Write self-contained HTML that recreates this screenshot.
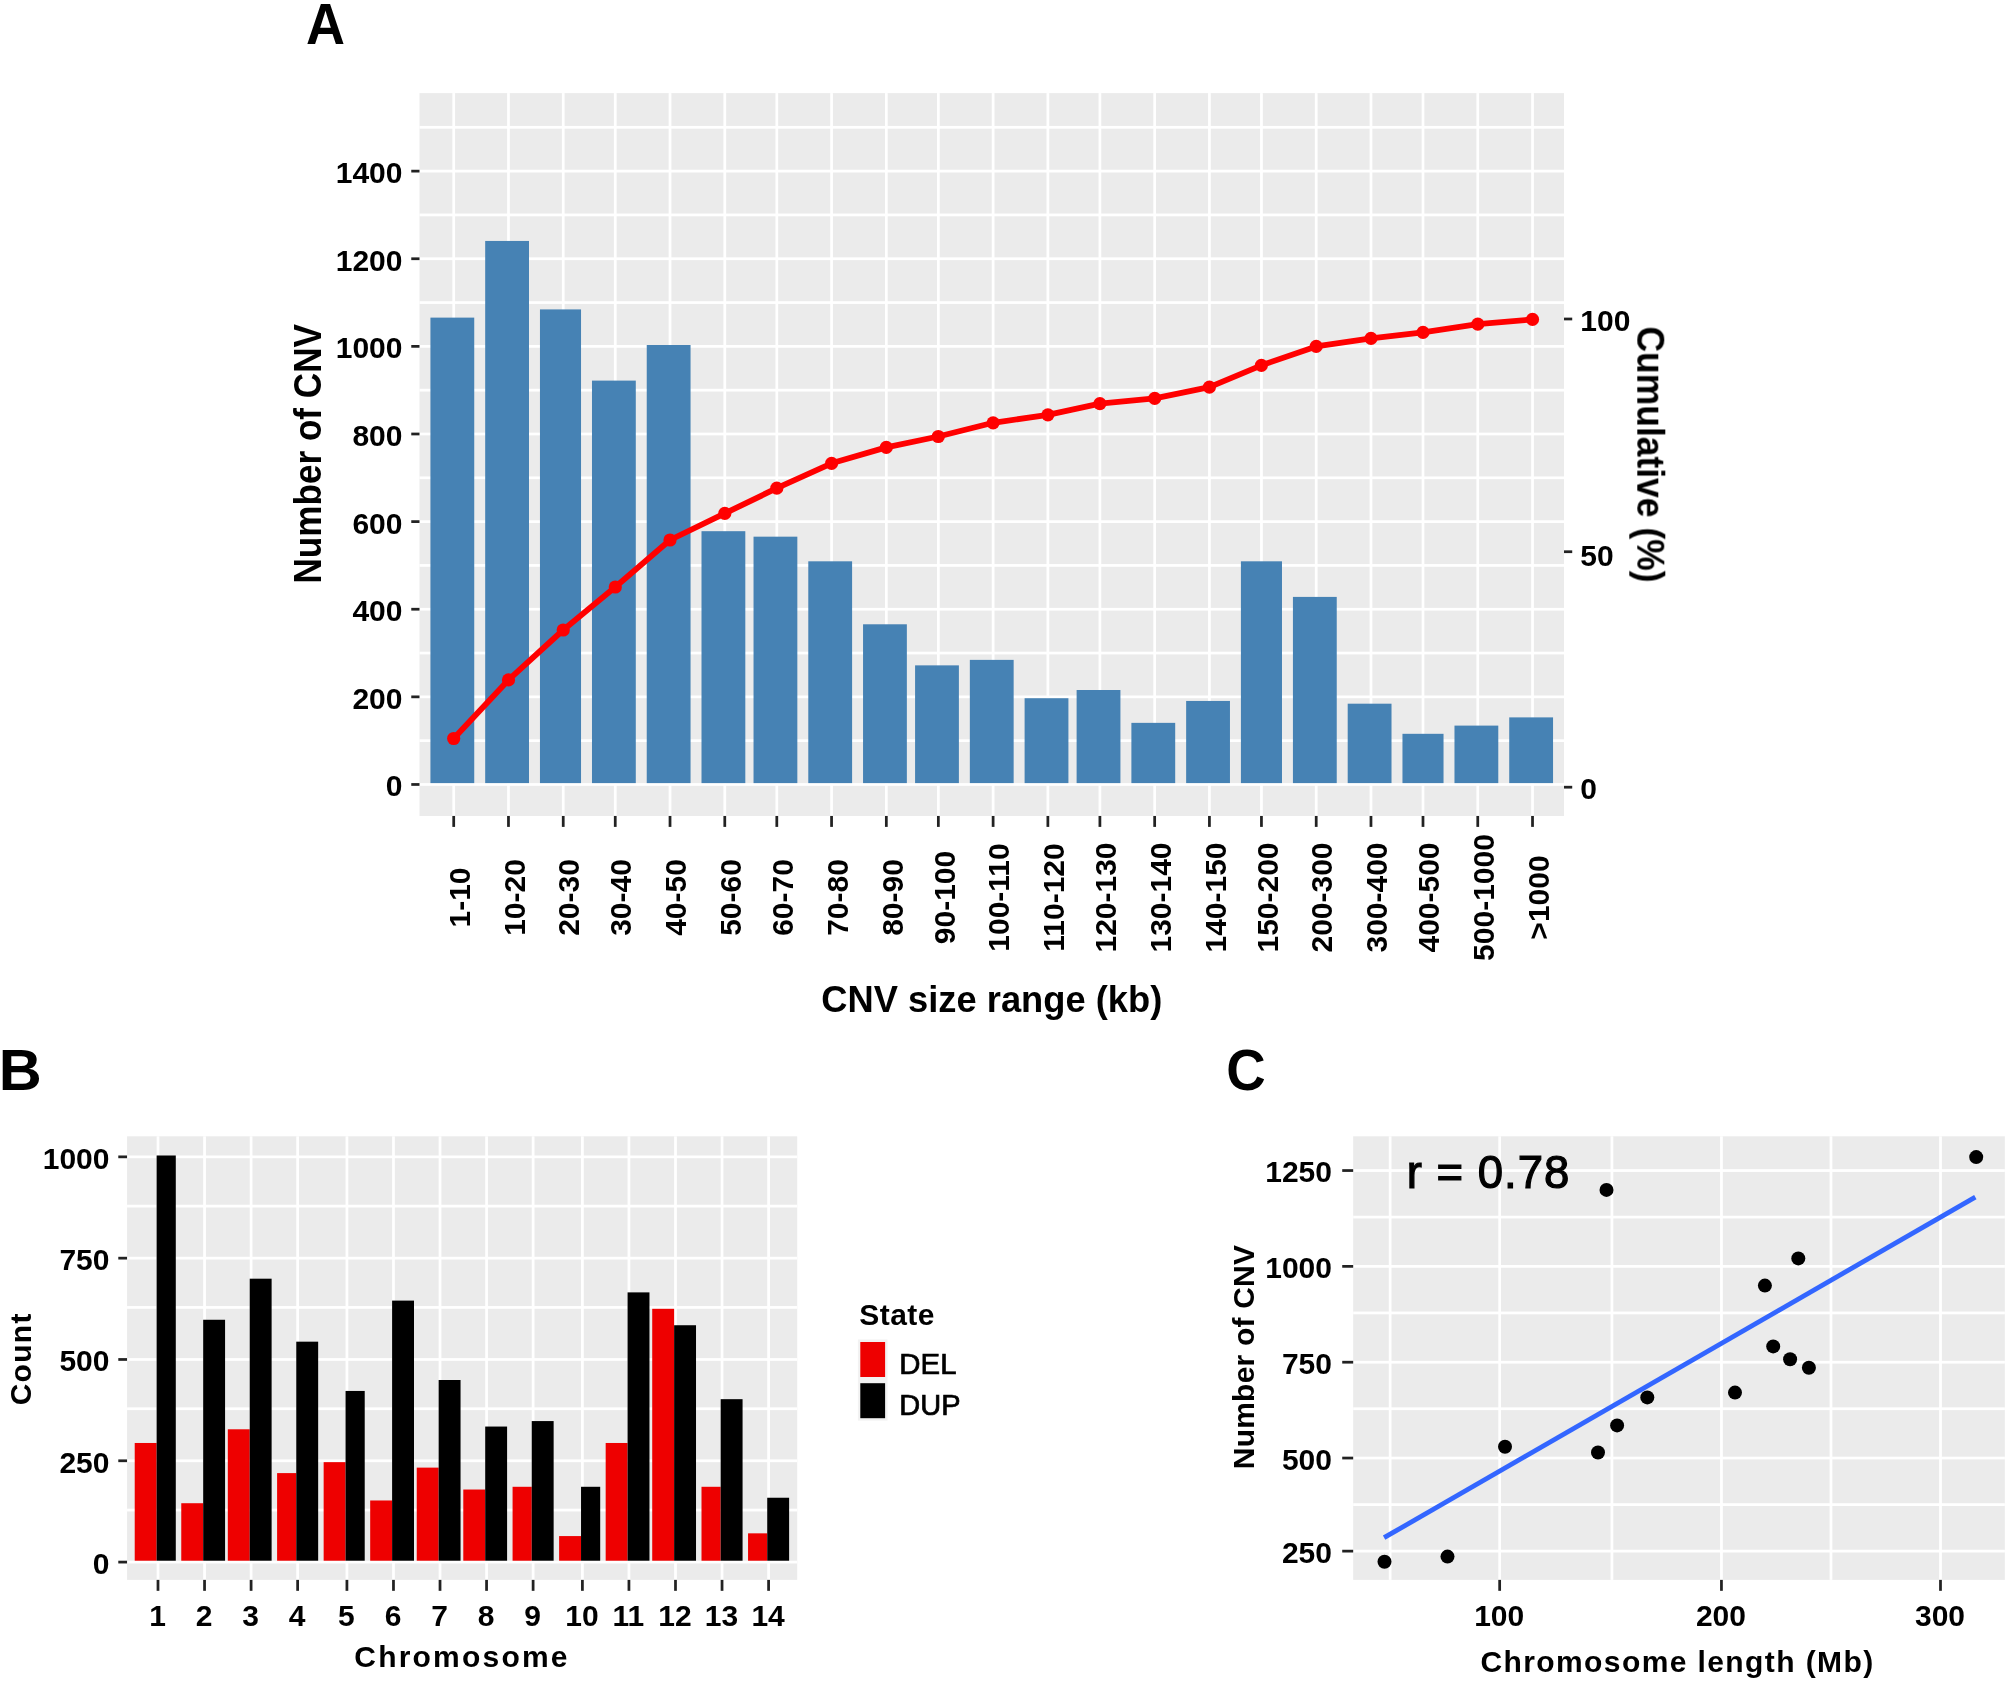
<!DOCTYPE html>
<html><head><meta charset="utf-8"><title>CNV figure</title>
<style>
html,body{margin:0;padding:0;background:#fff;}
svg{display:block;}
text{font-family:"Liberation Sans",sans-serif;}
</style></head><body>
<svg width="2007" height="1682" viewBox="0 0 2007 1682">
<defs>
<filter id="softS" x="0" y="0" width="2007" height="1682" filterUnits="userSpaceOnUse" color-interpolation-filters="sRGB"><feGaussianBlur stdDeviation="0.45"/></filter>
<filter id="softT" x="0" y="0" width="2007" height="1682" filterUnits="userSpaceOnUse" color-interpolation-filters="sRGB"><feGaussianBlur stdDeviation="0.75"/></filter>
</defs>
<rect x="0" y="0" width="2007" height="1682" fill="#fff"/>
<g filter="url(#softS)">
<rect x="0" y="0" width="2007" height="1682" fill="#fff"/>
<g id="panelA">
<rect x="419.48" y="93.10" width="1144.53" height="722.86" fill="#EBEBEB"/>
<rect x="419.48" y="125.95" width="1144.53" height="2.74" fill="#fff"/>
<rect x="419.48" y="169.76" width="1144.53" height="2.74" fill="#fff"/>
<rect x="419.48" y="213.57" width="1144.53" height="2.74" fill="#fff"/>
<rect x="419.48" y="257.38" width="1144.53" height="2.74" fill="#fff"/>
<rect x="419.48" y="301.19" width="1144.53" height="2.74" fill="#fff"/>
<rect x="419.48" y="345.00" width="1144.53" height="2.74" fill="#fff"/>
<rect x="419.48" y="388.81" width="1144.53" height="2.74" fill="#fff"/>
<rect x="419.48" y="432.62" width="1144.53" height="2.74" fill="#fff"/>
<rect x="419.48" y="476.43" width="1144.53" height="2.74" fill="#fff"/>
<rect x="419.48" y="520.24" width="1144.53" height="2.74" fill="#fff"/>
<rect x="419.48" y="564.05" width="1144.53" height="2.74" fill="#fff"/>
<rect x="419.48" y="607.86" width="1144.53" height="2.74" fill="#fff"/>
<rect x="419.48" y="651.67" width="1144.53" height="2.74" fill="#fff"/>
<rect x="419.48" y="695.48" width="1144.53" height="2.74" fill="#fff"/>
<rect x="419.48" y="739.29" width="1144.53" height="2.74" fill="#fff"/>
<rect x="419.48" y="783.10" width="1144.53" height="2.74" fill="#fff"/>
<rect x="452.34" y="93.10" width="2.74" height="722.86" fill="#fff"/>
<rect x="507.10" y="93.10" width="2.74" height="722.86" fill="#fff"/>
<rect x="561.86" y="93.10" width="2.74" height="722.86" fill="#fff"/>
<rect x="613.88" y="93.10" width="2.74" height="722.86" fill="#fff"/>
<rect x="668.65" y="93.10" width="2.74" height="722.86" fill="#fff"/>
<rect x="723.41" y="93.10" width="2.74" height="722.86" fill="#fff"/>
<rect x="775.43" y="93.10" width="2.74" height="722.86" fill="#fff"/>
<rect x="830.19" y="93.10" width="2.74" height="722.86" fill="#fff"/>
<rect x="884.96" y="93.10" width="2.74" height="722.86" fill="#fff"/>
<rect x="936.98" y="93.10" width="2.74" height="722.86" fill="#fff"/>
<rect x="991.74" y="93.10" width="2.74" height="722.86" fill="#fff"/>
<rect x="1046.50" y="93.10" width="2.74" height="722.86" fill="#fff"/>
<rect x="1098.53" y="93.10" width="2.74" height="722.86" fill="#fff"/>
<rect x="1153.29" y="93.10" width="2.74" height="722.86" fill="#fff"/>
<rect x="1208.05" y="93.10" width="2.74" height="722.86" fill="#fff"/>
<rect x="1260.08" y="93.10" width="2.74" height="722.86" fill="#fff"/>
<rect x="1314.84" y="93.10" width="2.74" height="722.86" fill="#fff"/>
<rect x="1369.60" y="93.10" width="2.74" height="722.86" fill="#fff"/>
<rect x="1421.62" y="93.10" width="2.74" height="722.86" fill="#fff"/>
<rect x="1476.39" y="93.10" width="2.74" height="722.86" fill="#fff"/>
<rect x="1531.15" y="93.10" width="2.74" height="722.86" fill="#fff"/>
<rect x="430.43" y="317.62" width="43.81" height="465.48" fill="#4682B4"/>
<rect x="485.19" y="240.95" width="43.81" height="542.14" fill="#4682B4"/>
<rect x="539.96" y="309.41" width="41.07" height="473.69" fill="#4682B4"/>
<rect x="591.98" y="380.60" width="43.81" height="402.50" fill="#4682B4"/>
<rect x="646.74" y="345.00" width="43.81" height="438.10" fill="#4682B4"/>
<rect x="701.50" y="531.19" width="43.81" height="251.91" fill="#4682B4"/>
<rect x="753.53" y="536.67" width="43.81" height="246.43" fill="#4682B4"/>
<rect x="808.29" y="561.31" width="43.81" height="221.79" fill="#4682B4"/>
<rect x="863.05" y="624.29" width="43.81" height="158.81" fill="#4682B4"/>
<rect x="915.08" y="665.36" width="43.81" height="117.74" fill="#4682B4"/>
<rect x="969.84" y="659.88" width="43.81" height="123.21" fill="#4682B4"/>
<rect x="1024.60" y="698.22" width="43.81" height="84.88" fill="#4682B4"/>
<rect x="1076.62" y="690.00" width="43.81" height="93.10" fill="#4682B4"/>
<rect x="1131.39" y="722.86" width="43.81" height="60.24" fill="#4682B4"/>
<rect x="1186.15" y="700.95" width="43.81" height="82.14" fill="#4682B4"/>
<rect x="1240.91" y="561.31" width="41.07" height="221.79" fill="#4682B4"/>
<rect x="1292.93" y="596.91" width="43.81" height="186.19" fill="#4682B4"/>
<rect x="1347.70" y="703.69" width="43.81" height="79.40" fill="#4682B4"/>
<rect x="1402.46" y="733.81" width="41.07" height="49.29" fill="#4682B4"/>
<rect x="1454.48" y="725.60" width="43.81" height="57.50" fill="#4682B4"/>
<rect x="1509.24" y="717.38" width="43.81" height="65.71" fill="#4682B4"/>
<polyline fill="none" stroke="#FF0000" stroke-width="5.8" stroke-linejoin="round" points="453.7,738.5 508.5,679.9 563.2,630.0 615.3,587.0 670.0,540.0 724.8,513.4 776.8,488.2 831.6,463.3 886.3,447.4 938.3,436.5 993.1,422.8 1047.9,414.8 1099.9,403.6 1154.7,398.4 1209.4,387.2 1261.4,365.3 1316.2,346.4 1371.0,338.3 1423.0,332.4 1477.8,324.2 1532.5,319.4"/>
<circle cx="453.7" cy="738.5" r="6.6" fill="#FF0000"/>
<circle cx="508.5" cy="679.9" r="6.6" fill="#FF0000"/>
<circle cx="563.2" cy="630.0" r="6.6" fill="#FF0000"/>
<circle cx="615.3" cy="587.0" r="6.6" fill="#FF0000"/>
<circle cx="670.0" cy="540.0" r="6.6" fill="#FF0000"/>
<circle cx="724.8" cy="513.4" r="6.6" fill="#FF0000"/>
<circle cx="776.8" cy="488.2" r="6.6" fill="#FF0000"/>
<circle cx="831.6" cy="463.3" r="6.6" fill="#FF0000"/>
<circle cx="886.3" cy="447.4" r="6.6" fill="#FF0000"/>
<circle cx="938.3" cy="436.5" r="6.6" fill="#FF0000"/>
<circle cx="993.1" cy="422.8" r="6.6" fill="#FF0000"/>
<circle cx="1047.9" cy="414.8" r="6.6" fill="#FF0000"/>
<circle cx="1099.9" cy="403.6" r="6.6" fill="#FF0000"/>
<circle cx="1154.7" cy="398.4" r="6.6" fill="#FF0000"/>
<circle cx="1209.4" cy="387.2" r="6.6" fill="#FF0000"/>
<circle cx="1261.4" cy="365.3" r="6.6" fill="#FF0000"/>
<circle cx="1316.2" cy="346.4" r="6.6" fill="#FF0000"/>
<circle cx="1371.0" cy="338.3" r="6.6" fill="#FF0000"/>
<circle cx="1423.0" cy="332.4" r="6.6" fill="#FF0000"/>
<circle cx="1477.8" cy="324.2" r="6.6" fill="#FF0000"/>
<circle cx="1532.5" cy="319.4" r="6.6" fill="#FF0000"/>
<rect x="411.27" y="169.76" width="8.21" height="2.74" fill="#222"/>
<rect x="411.27" y="257.38" width="8.21" height="2.74" fill="#222"/>
<rect x="411.27" y="345.00" width="8.21" height="2.74" fill="#222"/>
<rect x="411.27" y="432.62" width="8.21" height="2.74" fill="#222"/>
<rect x="411.27" y="520.24" width="8.21" height="2.74" fill="#222"/>
<rect x="411.27" y="607.86" width="8.21" height="2.74" fill="#222"/>
<rect x="411.27" y="695.48" width="8.21" height="2.74" fill="#222"/>
<rect x="411.27" y="783.10" width="8.21" height="2.74" fill="#222"/>
<rect x="1564.01" y="317.62" width="8.21" height="2.74" fill="#222"/>
<rect x="1564.01" y="550.36" width="8.21" height="2.74" fill="#222"/>
<rect x="1564.01" y="785.83" width="8.21" height="2.74" fill="#222"/>
<rect x="452.34" y="815.95" width="2.74" height="10.95" fill="#222"/>
<rect x="507.10" y="815.95" width="2.74" height="10.95" fill="#222"/>
<rect x="561.86" y="815.95" width="2.74" height="10.95" fill="#222"/>
<rect x="613.88" y="815.95" width="2.74" height="10.95" fill="#222"/>
<rect x="668.65" y="815.95" width="2.74" height="10.95" fill="#222"/>
<rect x="723.41" y="815.95" width="2.74" height="10.95" fill="#222"/>
<rect x="775.43" y="815.95" width="2.74" height="10.95" fill="#222"/>
<rect x="830.19" y="815.95" width="2.74" height="10.95" fill="#222"/>
<rect x="884.96" y="815.95" width="2.74" height="10.95" fill="#222"/>
<rect x="936.98" y="815.95" width="2.74" height="10.95" fill="#222"/>
<rect x="991.74" y="815.95" width="2.74" height="10.95" fill="#222"/>
<rect x="1046.50" y="815.95" width="2.74" height="10.95" fill="#222"/>
<rect x="1098.53" y="815.95" width="2.74" height="10.95" fill="#222"/>
<rect x="1153.29" y="815.95" width="2.74" height="10.95" fill="#222"/>
<rect x="1208.05" y="815.95" width="2.74" height="10.95" fill="#222"/>
<rect x="1260.08" y="815.95" width="2.74" height="10.95" fill="#222"/>
<rect x="1314.84" y="815.95" width="2.74" height="10.95" fill="#222"/>
<rect x="1369.60" y="815.95" width="2.74" height="10.95" fill="#222"/>
<rect x="1421.62" y="815.95" width="2.74" height="10.95" fill="#222"/>
<rect x="1476.39" y="815.95" width="2.74" height="10.95" fill="#222"/>
<rect x="1531.15" y="815.95" width="2.74" height="10.95" fill="#222"/>
</g>
<g id="panelB">
<rect x="127.06" y="1136.31" width="670.13" height="443.57" fill="#EBEBEB" />
<rect x="127.06" y="1155.48" width="670.13" height="2.74" fill="#fff" />
<rect x="127.06" y="1204.76" width="670.13" height="2.74" fill="#fff" />
<rect x="127.06" y="1256.79" width="670.13" height="2.74" fill="#fff" />
<rect x="127.06" y="1306.07" width="670.13" height="2.74" fill="#fff" />
<rect x="127.06" y="1358.10" width="670.13" height="2.74" fill="#fff" />
<rect x="127.06" y="1407.38" width="670.13" height="2.74" fill="#fff" />
<rect x="127.06" y="1459.41" width="670.13" height="2.74" fill="#fff" />
<rect x="127.06" y="1508.69" width="670.13" height="2.74" fill="#fff" />
<rect x="127.06" y="1560.72" width="670.13" height="2.74" fill="#fff" />
<rect x="156.62" y="1136.31" width="2.74" height="443.57" fill="#fff"/>
<rect x="203.17" y="1136.31" width="2.74" height="443.57" fill="#fff"/>
<rect x="249.72" y="1136.31" width="2.74" height="443.57" fill="#fff"/>
<rect x="296.26" y="1136.31" width="2.74" height="443.57" fill="#fff"/>
<rect x="345.55" y="1136.31" width="2.74" height="443.57" fill="#fff"/>
<rect x="392.10" y="1136.31" width="2.74" height="443.57" fill="#fff"/>
<rect x="438.65" y="1136.31" width="2.74" height="443.57" fill="#fff"/>
<rect x="485.19" y="1136.31" width="2.74" height="443.57" fill="#fff"/>
<rect x="531.74" y="1136.31" width="2.74" height="443.57" fill="#fff"/>
<rect x="581.03" y="1136.31" width="2.74" height="443.57" fill="#fff"/>
<rect x="627.57" y="1136.31" width="2.74" height="443.57" fill="#fff"/>
<rect x="674.12" y="1136.31" width="2.74" height="443.57" fill="#fff"/>
<rect x="720.67" y="1136.31" width="2.74" height="443.57" fill="#fff"/>
<rect x="767.22" y="1136.31" width="2.74" height="443.57" fill="#fff"/>
<rect x="134.72" y="1442.98" width="21.90" height="117.74" fill="#EE0000"/>
<rect x="156.62" y="1155.48" width="19.17" height="405.24" fill="#000"/>
<rect x="181.26" y="1503.22" width="21.90" height="57.50" fill="#EE0000"/>
<rect x="203.17" y="1319.76" width="21.90" height="240.95" fill="#000"/>
<rect x="227.81" y="1429.29" width="21.90" height="131.43" fill="#EE0000"/>
<rect x="249.72" y="1278.69" width="21.90" height="282.02" fill="#000"/>
<rect x="277.10" y="1473.10" width="19.17" height="87.62" fill="#EE0000"/>
<rect x="296.26" y="1341.67" width="21.90" height="219.05" fill="#000"/>
<rect x="323.65" y="1462.15" width="21.90" height="98.57" fill="#EE0000"/>
<rect x="345.55" y="1390.95" width="19.17" height="169.76" fill="#000"/>
<rect x="370.19" y="1500.48" width="21.90" height="60.24" fill="#EE0000"/>
<rect x="392.10" y="1300.60" width="21.90" height="260.12" fill="#000"/>
<rect x="416.74" y="1467.62" width="21.90" height="93.10" fill="#EE0000"/>
<rect x="438.65" y="1380.00" width="21.90" height="180.71" fill="#000"/>
<rect x="463.29" y="1489.53" width="21.90" height="71.19" fill="#EE0000"/>
<rect x="485.19" y="1426.55" width="21.90" height="134.17" fill="#000"/>
<rect x="512.57" y="1486.79" width="19.17" height="73.93" fill="#EE0000"/>
<rect x="531.74" y="1421.07" width="21.90" height="139.64" fill="#000"/>
<rect x="559.12" y="1536.07" width="21.90" height="24.64" fill="#EE0000"/>
<rect x="581.03" y="1486.79" width="19.17" height="73.93" fill="#000"/>
<rect x="605.67" y="1442.98" width="21.90" height="117.74" fill="#EE0000"/>
<rect x="627.57" y="1292.38" width="21.90" height="268.33" fill="#000"/>
<rect x="652.22" y="1308.81" width="21.90" height="251.91" fill="#EE0000"/>
<rect x="674.12" y="1325.24" width="21.90" height="235.48" fill="#000"/>
<rect x="701.50" y="1486.79" width="19.17" height="73.93" fill="#EE0000"/>
<rect x="720.67" y="1399.17" width="21.90" height="161.55" fill="#000"/>
<rect x="748.05" y="1533.34" width="19.17" height="27.38" fill="#EE0000"/>
<rect x="767.22" y="1497.74" width="21.90" height="62.98" fill="#000"/>
<rect x="118.29" y="1155.48" width="8.77" height="2.74" fill="#222" />
<rect x="118.29" y="1256.79" width="8.77" height="2.74" fill="#222" />
<rect x="118.29" y="1358.10" width="8.77" height="2.74" fill="#222" />
<rect x="118.29" y="1459.41" width="8.77" height="2.74" fill="#222" />
<rect x="118.29" y="1560.72" width="8.77" height="2.74" fill="#222" />
<rect x="156.62" y="1579.88" width="2.74" height="10.95" fill="#222"/>
<rect x="203.17" y="1579.88" width="2.74" height="10.95" fill="#222"/>
<rect x="249.72" y="1579.88" width="2.74" height="10.95" fill="#222"/>
<rect x="296.26" y="1579.88" width="2.74" height="10.95" fill="#222"/>
<rect x="345.55" y="1579.88" width="2.74" height="10.95" fill="#222"/>
<rect x="392.10" y="1579.88" width="2.74" height="10.95" fill="#222"/>
<rect x="438.65" y="1579.88" width="2.74" height="10.95" fill="#222"/>
<rect x="485.19" y="1579.88" width="2.74" height="10.95" fill="#222"/>
<rect x="531.74" y="1579.88" width="2.74" height="10.95" fill="#222"/>
<rect x="581.03" y="1579.88" width="2.74" height="10.95" fill="#222"/>
<rect x="627.57" y="1579.88" width="2.74" height="10.95" fill="#222"/>
<rect x="674.12" y="1579.88" width="2.74" height="10.95" fill="#222"/>
<rect x="720.67" y="1579.88" width="2.74" height="10.95" fill="#222"/>
<rect x="767.22" y="1579.88" width="2.74" height="10.95" fill="#222"/>
<rect x="857.90" y="1339.50" width="29.60" height="81.10" fill="#F2F2F2" />
<rect x="860.30" y="1342.00" width="24.80" height="35.00" fill="#EE0000" />
<rect x="860.30" y="1383.20" width="24.80" height="35.00" fill="#000" />
</g>
<g id="panelC">
<rect x="1353.17" y="1136.31" width="651.67" height="443.57" fill="#EBEBEB"/>
<rect x="1353.17" y="1169.17" width="651.67" height="2.74" fill="#fff"/>
<rect x="1353.17" y="1215.72" width="651.67" height="2.74" fill="#fff"/>
<rect x="1353.17" y="1265.00" width="651.67" height="2.74" fill="#fff"/>
<rect x="1353.17" y="1311.55" width="651.67" height="2.74" fill="#fff"/>
<rect x="1353.17" y="1360.84" width="651.67" height="2.74" fill="#fff"/>
<rect x="1353.17" y="1407.38" width="651.67" height="2.74" fill="#fff"/>
<rect x="1353.17" y="1456.67" width="651.67" height="2.74" fill="#fff"/>
<rect x="1353.17" y="1503.22" width="651.67" height="2.74" fill="#fff"/>
<rect x="1353.17" y="1549.76" width="651.67" height="2.74" fill="#fff"/>
<rect x="1388.77" y="1136.31" width="2.74" height="443.57" fill="#fff"/>
<rect x="1498.29" y="1136.31" width="2.74" height="443.57" fill="#fff"/>
<rect x="1610.55" y="1136.31" width="2.74" height="443.57" fill="#fff"/>
<rect x="1720.08" y="1136.31" width="2.74" height="443.57" fill="#fff"/>
<rect x="1829.60" y="1136.31" width="2.74" height="443.57" fill="#fff"/>
<rect x="1939.12" y="1136.31" width="2.74" height="443.57" fill="#fff"/>
<line x1="1384.1" y1="1537.7" x2="1975.3" y2="1197.1" stroke="#3366FF" stroke-width="4.8"/>
<circle cx="1606.5" cy="1189.9" r="7" fill="#000"/>
<circle cx="1976.2" cy="1157.1" r="7" fill="#000"/>
<circle cx="1798.3" cy="1258.4" r="7" fill="#000"/>
<circle cx="1764.9" cy="1285.6" r="7" fill="#000"/>
<circle cx="1773.2" cy="1346.4" r="7" fill="#000"/>
<circle cx="1790.1" cy="1359.2" r="7" fill="#000"/>
<circle cx="1808.9" cy="1367.8" r="7" fill="#000"/>
<circle cx="1735.0" cy="1392.6" r="7" fill="#000"/>
<circle cx="1647.3" cy="1397.4" r="7" fill="#000"/>
<circle cx="1617.1" cy="1425.4" r="7" fill="#000"/>
<circle cx="1598.0" cy="1452.5" r="7" fill="#000"/>
<circle cx="1384.5" cy="1561.8" r="7" fill="#000"/>
<circle cx="1447.5" cy="1556.6" r="7" fill="#000"/>
<circle cx="1505.0" cy="1446.7" r="7" fill="#000"/>
<rect x="1342.22" y="1169.17" width="10.95" height="2.74" fill="#222"/>
<rect x="1342.22" y="1265.00" width="10.95" height="2.74" fill="#222"/>
<rect x="1342.22" y="1360.84" width="10.95" height="2.74" fill="#222"/>
<rect x="1342.22" y="1456.67" width="10.95" height="2.74" fill="#222"/>
<rect x="1342.22" y="1549.76" width="10.95" height="2.74" fill="#222"/>
<rect x="1498.29" y="1579.88" width="2.74" height="10.95" fill="#222"/>
<rect x="1720.08" y="1579.88" width="2.74" height="10.95" fill="#222"/>
<rect x="1939.12" y="1579.88" width="2.74" height="10.95" fill="#222"/>
</g>
</g>
<g filter="url(#softT)">
<text x="402.50" y="183.07"  font-size="30.0" font-weight="bold" text-anchor="end" fill="#000"  >1400</text>
<text x="402.50" y="270.69"  font-size="30.0" font-weight="bold" text-anchor="end" fill="#000"  >1200</text>
<text x="402.50" y="358.31"  font-size="30.0" font-weight="bold" text-anchor="end" fill="#000"  >1000</text>
<text x="402.50" y="445.93"  font-size="30.0" font-weight="bold" text-anchor="end" fill="#000"  >800</text>
<text x="402.50" y="533.55"  font-size="30.0" font-weight="bold" text-anchor="end" fill="#000"  >600</text>
<text x="402.50" y="621.17"  font-size="30.0" font-weight="bold" text-anchor="end" fill="#000"  >400</text>
<text x="402.50" y="708.79"  font-size="30.0" font-weight="bold" text-anchor="end" fill="#000"  >200</text>
<text x="402.50" y="796.41"  font-size="30.0" font-weight="bold" text-anchor="end" fill="#000"  >0</text>
<text x="1580.30" y="330.73"  font-size="30.0" font-weight="bold" text-anchor="start" fill="#000"  >100</text>
<text x="1580.30" y="565.97"  font-size="30.0" font-weight="bold" text-anchor="start" fill="#000"  >50</text>
<text x="1580.30" y="798.94"  font-size="30.0" font-weight="bold" text-anchor="start" fill="#000"  >0</text>
<text x="0" y="0" transform="translate(469.95,897.50) rotate(-90)" font-size="30.0" font-weight="bold" text-anchor="middle" fill="#000"  >1-10</text>
<text x="0" y="0" transform="translate(524.71,897.50) rotate(-90)" font-size="30.0" font-weight="bold" text-anchor="middle" fill="#000"  >10-20</text>
<text x="0" y="0" transform="translate(579.47,897.50) rotate(-90)" font-size="30.0" font-weight="bold" text-anchor="middle" fill="#000"  >20-30</text>
<text x="0" y="0" transform="translate(631.49,897.50) rotate(-90)" font-size="30.0" font-weight="bold" text-anchor="middle" fill="#000"  >30-40</text>
<text x="0" y="0" transform="translate(686.26,897.50) rotate(-90)" font-size="30.0" font-weight="bold" text-anchor="middle" fill="#000"  >40-50</text>
<text x="0" y="0" transform="translate(741.02,897.50) rotate(-90)" font-size="30.0" font-weight="bold" text-anchor="middle" fill="#000"  >50-60</text>
<text x="0" y="0" transform="translate(793.04,897.50) rotate(-90)" font-size="30.0" font-weight="bold" text-anchor="middle" fill="#000"  >60-70</text>
<text x="0" y="0" transform="translate(847.80,897.50) rotate(-90)" font-size="30.0" font-weight="bold" text-anchor="middle" fill="#000"  >70-80</text>
<text x="0" y="0" transform="translate(902.57,897.50) rotate(-90)" font-size="30.0" font-weight="bold" text-anchor="middle" fill="#000"  >80-90</text>
<text x="0" y="0" transform="translate(954.59,897.50) rotate(-90)" font-size="30.0" font-weight="bold" text-anchor="middle" fill="#000"  >90-100</text>
<text x="0" y="0" transform="translate(1009.35,897.50) rotate(-90)" font-size="30.0" font-weight="bold" text-anchor="middle" fill="#000"  >100-110</text>
<text x="0" y="0" transform="translate(1064.11,897.50) rotate(-90)" font-size="30.0" font-weight="bold" text-anchor="middle" fill="#000"  >110-120</text>
<text x="0" y="0" transform="translate(1116.14,897.50) rotate(-90)" font-size="30.0" font-weight="bold" text-anchor="middle" fill="#000"  >120-130</text>
<text x="0" y="0" transform="translate(1170.90,897.50) rotate(-90)" font-size="30.0" font-weight="bold" text-anchor="middle" fill="#000"  >130-140</text>
<text x="0" y="0" transform="translate(1225.66,897.50) rotate(-90)" font-size="30.0" font-weight="bold" text-anchor="middle" fill="#000"  >140-150</text>
<text x="0" y="0" transform="translate(1277.69,897.50) rotate(-90)" font-size="30.0" font-weight="bold" text-anchor="middle" fill="#000"  >150-200</text>
<text x="0" y="0" transform="translate(1332.45,897.50) rotate(-90)" font-size="30.0" font-weight="bold" text-anchor="middle" fill="#000"  >200-300</text>
<text x="0" y="0" transform="translate(1387.21,897.50) rotate(-90)" font-size="30.0" font-weight="bold" text-anchor="middle" fill="#000"  >300-400</text>
<text x="0" y="0" transform="translate(1439.23,897.50) rotate(-90)" font-size="30.0" font-weight="bold" text-anchor="middle" fill="#000"  >400-500</text>
<text x="0" y="0" transform="translate(1493.99,897.50) rotate(-90)" font-size="30.0" font-weight="bold" text-anchor="middle" fill="#000"  >500-1000</text>
<text x="0" y="0" transform="translate(1548.76,897.50) rotate(-90)" font-size="30.0" font-weight="bold" text-anchor="middle" fill="#000"  >&gt;1000</text>
<text x="0" y="0" transform="translate(321.00,453.80) rotate(-90)" font-size="38.5" font-weight="bold" text-anchor="middle" fill="#000"  textLength="259.5" lengthAdjust="spacingAndGlyphs">Number of CNV</text>
<text x="0" y="0" transform="translate(1637.30,454.50) rotate(90)" font-size="38.5" font-weight="bold" text-anchor="middle" fill="#000"  textLength="256" lengthAdjust="spacingAndGlyphs">Cumulative (%)</text>
<text x="991.80" y="1012.20"  font-size="36.3" font-weight="bold" text-anchor="middle" fill="#000"  >CNV size range (kb)</text>
<text x="306.00" y="44.00"  font-size="57" font-weight="bold" text-anchor="start" fill="#000"  textLength="39" lengthAdjust="spacingAndGlyphs">A</text>
<text x="109.50" y="1168.79"  font-size="30.0" font-weight="bold" text-anchor="end" fill="#000"  >1000</text>
<text x="109.50" y="1270.10"  font-size="30.0" font-weight="bold" text-anchor="end" fill="#000"  >750</text>
<text x="109.50" y="1371.41"  font-size="30.0" font-weight="bold" text-anchor="end" fill="#000"  >500</text>
<text x="109.50" y="1472.72"  font-size="30.0" font-weight="bold" text-anchor="end" fill="#000"  >250</text>
<text x="109.50" y="1574.03"  font-size="30.0" font-weight="bold" text-anchor="end" fill="#000"  >0</text>
<text x="157.49" y="1626.00"  font-size="30.0" font-weight="bold" text-anchor="middle" fill="#000"  >1</text>
<text x="204.04" y="1626.00"  font-size="30.0" font-weight="bold" text-anchor="middle" fill="#000"  >2</text>
<text x="250.59" y="1626.00"  font-size="30.0" font-weight="bold" text-anchor="middle" fill="#000"  >3</text>
<text x="297.13" y="1626.00"  font-size="30.0" font-weight="bold" text-anchor="middle" fill="#000"  >4</text>
<text x="346.42" y="1626.00"  font-size="30.0" font-weight="bold" text-anchor="middle" fill="#000"  >5</text>
<text x="392.97" y="1626.00"  font-size="30.0" font-weight="bold" text-anchor="middle" fill="#000"  >6</text>
<text x="439.52" y="1626.00"  font-size="30.0" font-weight="bold" text-anchor="middle" fill="#000"  >7</text>
<text x="486.06" y="1626.00"  font-size="30.0" font-weight="bold" text-anchor="middle" fill="#000"  >8</text>
<text x="532.61" y="1626.00"  font-size="30.0" font-weight="bold" text-anchor="middle" fill="#000"  >9</text>
<text x="581.90" y="1626.00"  font-size="30.0" font-weight="bold" text-anchor="middle" fill="#000"  >10</text>
<text x="628.44" y="1626.00"  font-size="30.0" font-weight="bold" text-anchor="middle" fill="#000"  >11</text>
<text x="674.99" y="1626.00"  font-size="30.0" font-weight="bold" text-anchor="middle" fill="#000"  >12</text>
<text x="721.54" y="1626.00"  font-size="30.0" font-weight="bold" text-anchor="middle" fill="#000"  >13</text>
<text x="768.09" y="1626.00"  font-size="30.0" font-weight="bold" text-anchor="middle" fill="#000"  >14</text>
<text x="462.00" y="1667.00"  font-size="30.0" font-weight="bold" text-anchor="middle" fill="#000" letter-spacing="2.2" >Chromosome</text>
<text x="0" y="0" transform="translate(30.50,1358.80) rotate(-90)" font-size="30.0" font-weight="bold" text-anchor="middle" fill="#000" letter-spacing="1.3" >Count</text>
<text x="-1.20" y="1089.70"  font-size="57" font-weight="bold" text-anchor="start" fill="#000"  textLength="43" lengthAdjust="spacingAndGlyphs">B</text>
<text x="859.20" y="1325.10"  font-size="30.0" font-weight="bold" text-anchor="start" fill="#000" letter-spacing="0.5" >State</text>
<text x="899.30" y="1373.80"  font-size="29.4" font-weight="normal" text-anchor="start" fill="#000"  stroke="#000" stroke-width="0.7">DEL</text>
<text x="899.30" y="1414.70"  font-size="29.0" font-weight="normal" text-anchor="start" fill="#000"  stroke="#000" stroke-width="0.7">DUP</text>
<text x="1332.00" y="1182.48"  font-size="30.0" font-weight="bold" text-anchor="end" fill="#000"  >1250</text>
<text x="1332.00" y="1278.31"  font-size="30.0" font-weight="bold" text-anchor="end" fill="#000"  >1000</text>
<text x="1332.00" y="1374.14"  font-size="30.0" font-weight="bold" text-anchor="end" fill="#000"  >750</text>
<text x="1332.00" y="1469.98"  font-size="30.0" font-weight="bold" text-anchor="end" fill="#000"  >500</text>
<text x="1332.00" y="1563.07"  font-size="30.0" font-weight="bold" text-anchor="end" fill="#000"  >250</text>
<text x="1499.16" y="1626.00"  font-size="30.0" font-weight="bold" text-anchor="middle" fill="#000"  >100</text>
<text x="1720.95" y="1626.00"  font-size="30.0" font-weight="bold" text-anchor="middle" fill="#000"  >200</text>
<text x="1939.99" y="1626.00"  font-size="30.0" font-weight="bold" text-anchor="middle" fill="#000"  >300</text>
<text x="1677.50" y="1672.00"  font-size="30.0" font-weight="bold" text-anchor="middle" fill="#000" letter-spacing="1.4" >Chromosome length (Mb)</text>
<text x="0" y="0" transform="translate(1253.80,1357.00) rotate(-90)" font-size="30.0" font-weight="bold" text-anchor="middle" fill="#000" letter-spacing="0.2" >Number of CNV</text>
<text x="1226.20" y="1089.70"  font-size="57" font-weight="bold" text-anchor="start" fill="#000"  textLength="39.4" lengthAdjust="spacingAndGlyphs">C</text>
<text x="1406.80" y="1188.40"  font-size="45.5" font-weight="normal" text-anchor="start" fill="#000" letter-spacing="1.0" stroke="#000" stroke-width="1.2">r = 0.78</text>
</g>
</svg>
</body></html>
